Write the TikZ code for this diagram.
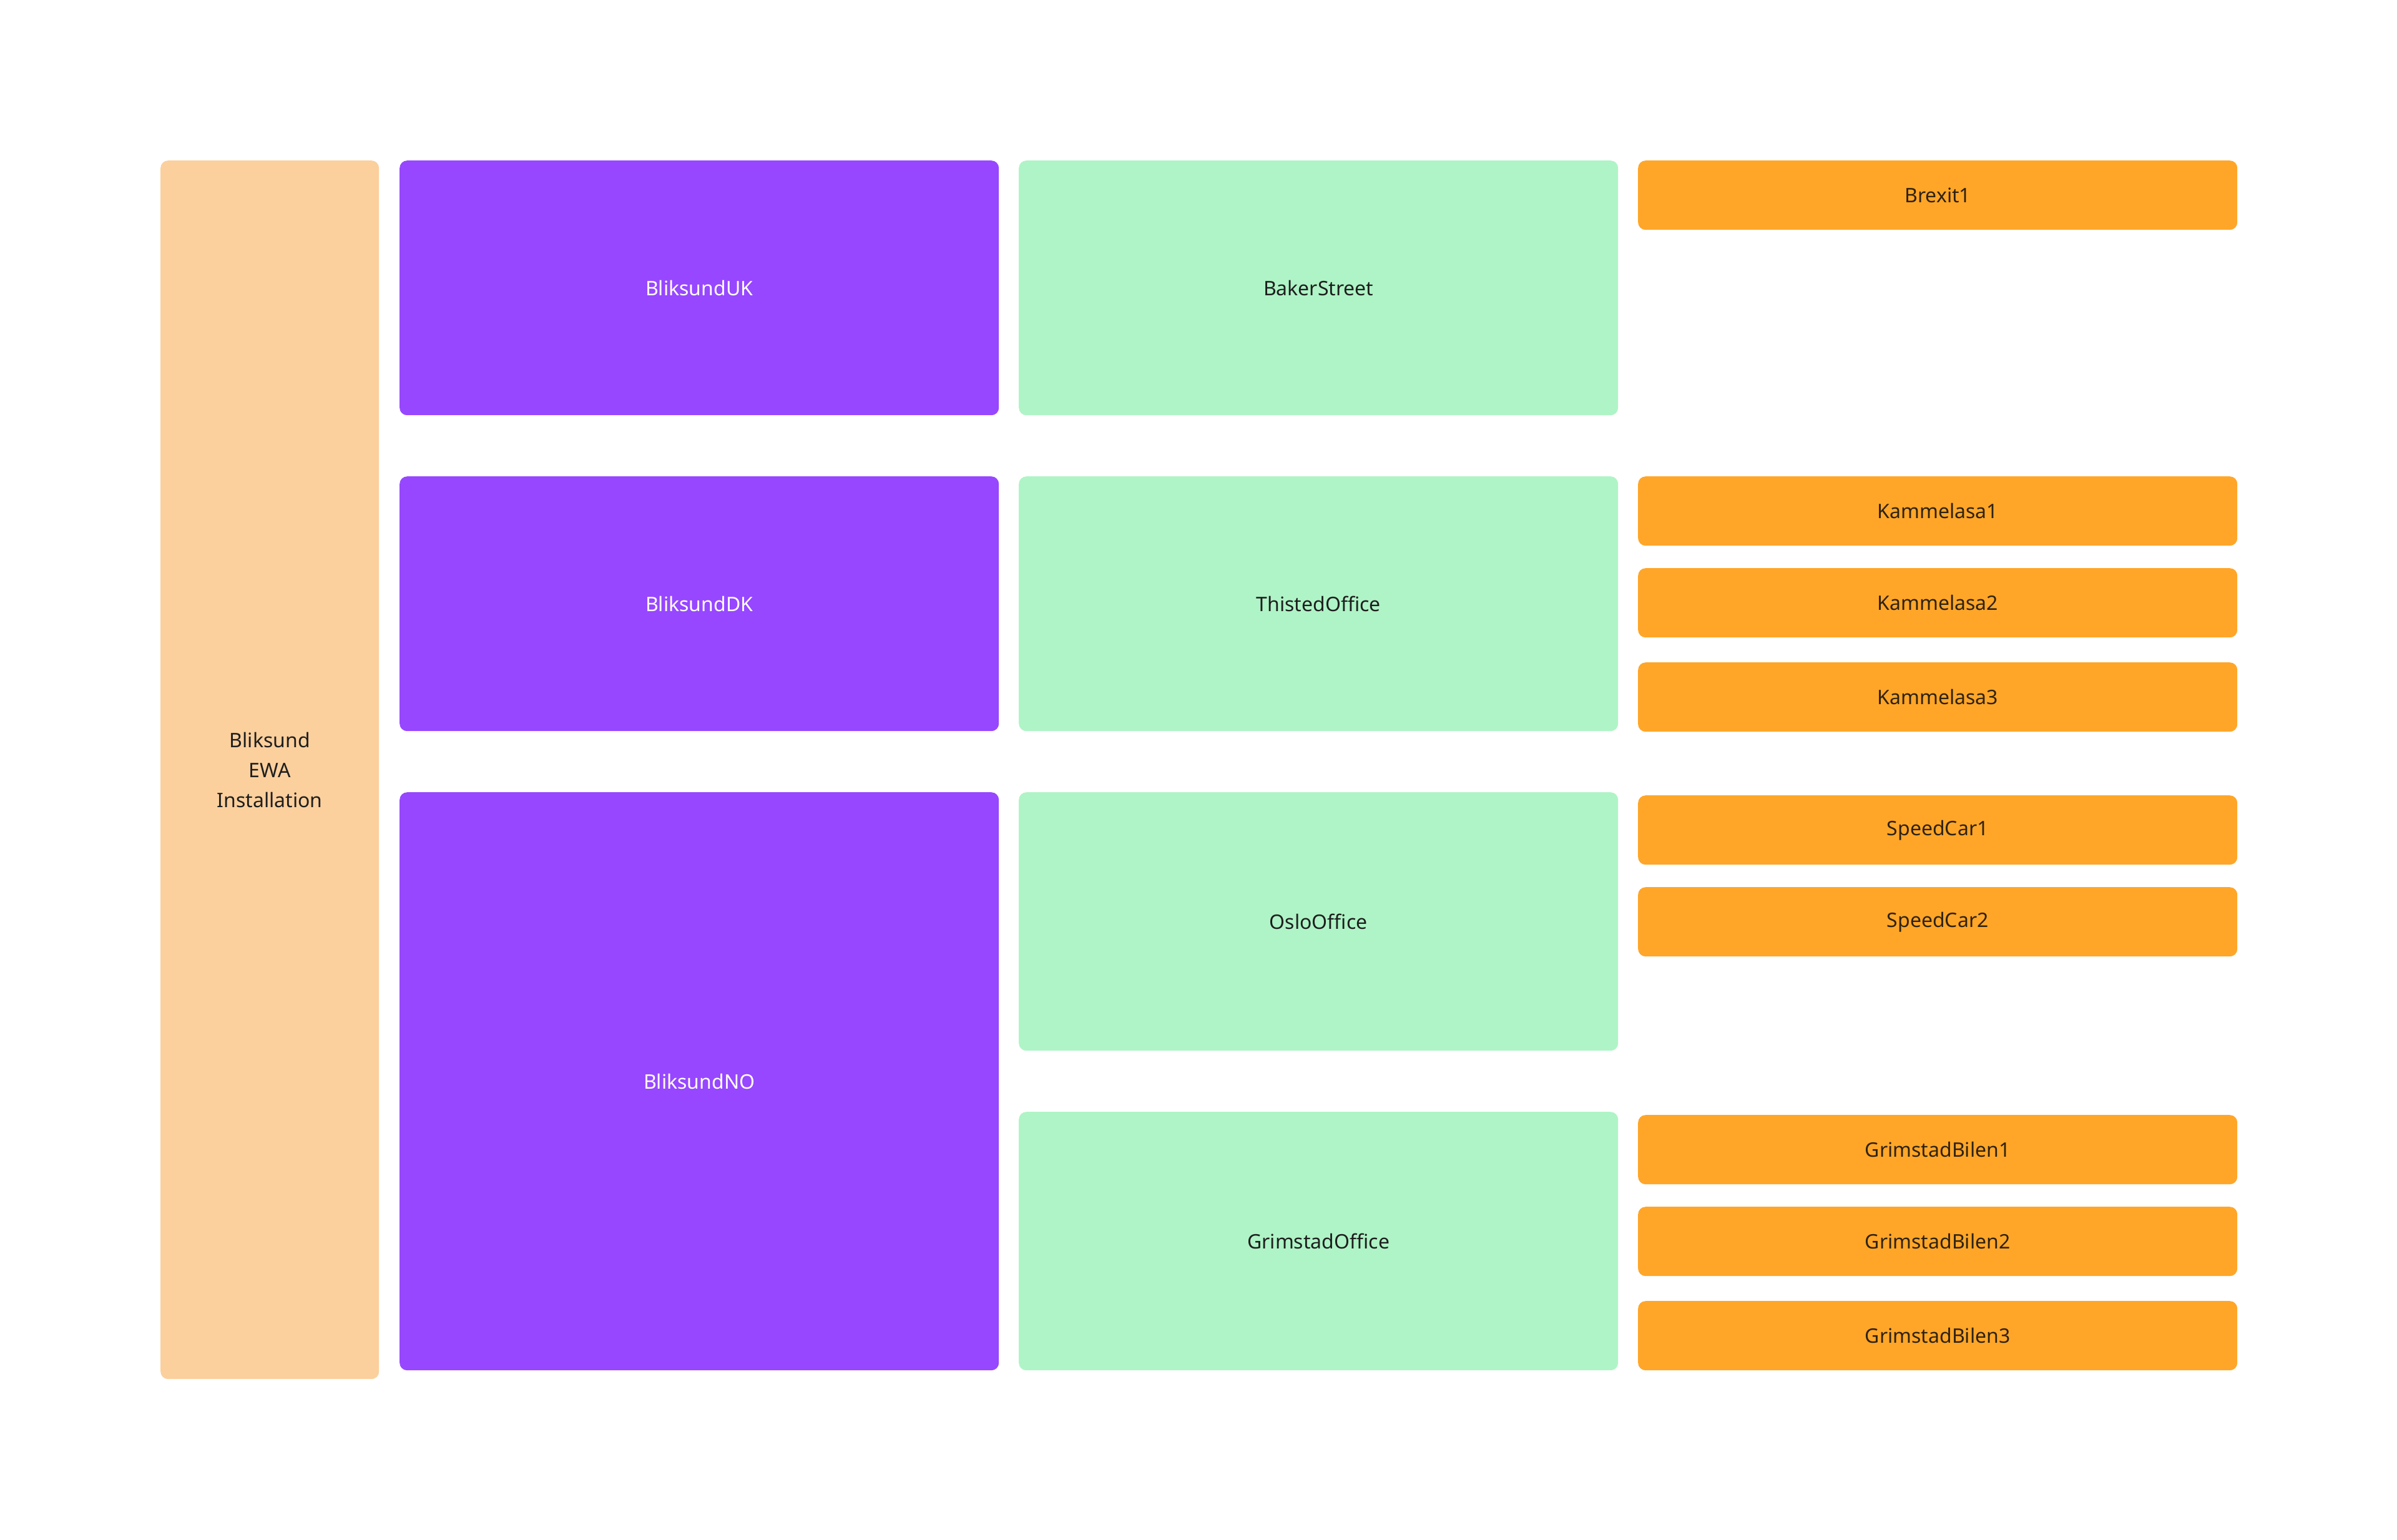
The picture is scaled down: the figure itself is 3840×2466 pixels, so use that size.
\documentclass[tikz,border=0pt]{standalone}
\usepackage{fontspec}
\setmainfont{Noto Sans}
\definecolor{peach}{HTML}{FBD09D}
\definecolor{purp}{HTML}{9747FF}
\definecolor{mint}{HTML}{AFF4C6}
\definecolor{orng}{HTML}{FFA629}
\definecolor{darktxt}{HTML}{1E1E1E}
\definecolor{browntxt}{HTML}{2E2210}
\begin{document}
\begin{tikzpicture}[x=1pt,y=-1pt,
  box/.style={rectangle, rounded corners=12pt, inner sep=0pt, anchor=north west,
    font=\fontsize{32}{48}\selectfont, align=center},
  rootbox/.style={box, fill=peach, text=darktxt, minimum width=350pt},
  orgbox/.style={box, fill=purp, text=white, minimum width=960pt},
  sitebox/.style={box, fill=mint, text=darktxt, minimum width=960pt},
  unitbox/.style={box, fill=orng, text=browntxt, minimum width=960pt, minimum height=111pt}]
\useasboundingbox (0,0) rectangle (3840,2466);
\node[rootbox, minimum height=1952pt] (root) at (257,257) {Bliksund\\EWA\\Installation};
\node[orgbox, minimum height=408pt] (uk) at (640,257) {BliksundUK};
\node[orgbox, minimum height=408pt] (dk) at (640,763) {BliksundDK};
\node[orgbox, minimum height=926pt] (no) at (640,1269) {BliksundNO};
\node[sitebox, minimum height=408pt] (baker) at (1632,257) {BakerStreet};
\node[sitebox, minimum height=408pt] (thisted) at (1632,763) {ThistedOffice};
\node[sitebox, minimum height=414pt] (oslo) at (1632,1269) {OsloOffice};
\node[sitebox, minimum height=414pt] (grim) at (1632,1781) {GrimstadOffice};
\node[unitbox] (brexit) at (2624,257) {Brexit1};
\node[unitbox] (k1) at (2624,763) {Kammelasa1};
\node[unitbox] (k2) at (2624,910) {Kammelasa2};
\node[unitbox] (k3) at (2624,1061) {Kammelasa3};
\node[unitbox] (s1) at (2624,1274) {SpeedCar1};
\node[unitbox] (s2) at (2624,1421) {SpeedCar2};
\node[unitbox] (g1) at (2624,1786) {GrimstadBilen1};
\node[unitbox] (g2) at (2624,1933) {GrimstadBilen2};
\node[unitbox] (g3) at (2624,2084) {GrimstadBilen3};
\end{tikzpicture}
\end{document}
